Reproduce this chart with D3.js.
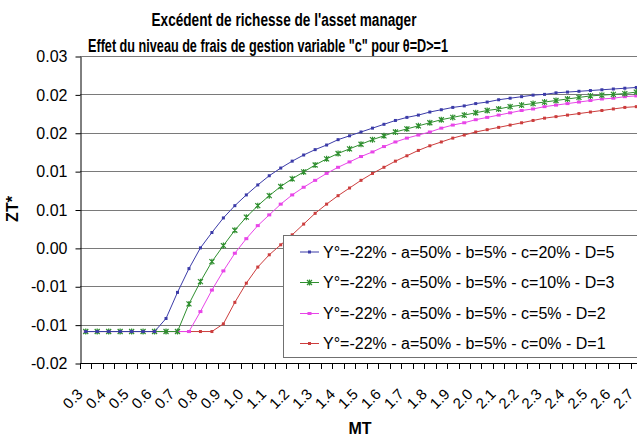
<!DOCTYPE html>
<html><head><meta charset="utf-8">
<script src="https://cdn.jsdelivr.net/npm/d3@7"></script>
<style>
html,body{margin:0;padding:0;background:#fff;overflow:hidden}
text{font-family:"Liberation Sans",Arial,sans-serif}
</style></head>
<body><svg id="c" width="637" height="437"></svg>
<script>
// ---- data ----
const categories = [0.30,0.35,0.40,0.45,0.50,0.55,0.60,0.65,0.70,0.75,0.80,0.85,0.90,0.95,1.00,1.05,1.10,1.15,1.20,1.25,1.30,1.35,1.40,1.45,1.50,1.55,1.60,1.65,1.70,1.75,1.80,1.85,1.90,1.95,2.00,2.05,2.10,2.15,2.20,2.25,2.30,2.35,2.40,2.45,2.50,2.55,2.60,2.65,2.70,2.75];
const xTickLabels = ["0.3","0.4","0.5","0.6","0.7","0.8","0.9","1.0","1.1","1.2","1.3","1.4","1.5","1.6","1.7","1.8","1.9","2.0","2.1","2.2","2.3","2.4","2.5","2.6","2.7"];
const yTicks = [-0.015,-0.01,-0.005,0,0.005,0.01,0.015,0.02,0.025];
const yTickLabels = ["-0.02","-0.01","-0.01","0.00","0.01","0.01","0.02","0.02","0.03"];
const seriesNames = [
  "Y°=-22% - a=50% - b=5% - c=20% - D=5",
  "Y°=-22% - a=50% - b=5% - c=10% - D=3",
  "Y°=-22% - a=50% - b=5% - c=5% - D=2",
  "Y°=-22% - a=50% - b=5% - c=0% - D=1"
];
const serieC20 = [-0.0109,-0.0109,-0.0109,-0.0109,-0.0109,-0.0109,-0.0109,-0.0092,-0.0058,-0.0027,0.0000,0.0020,0.0039,0.0055,0.0069,0.0082,0.0094,0.0104,0.0113,0.0121,0.0128,0.0134,0.0141,0.0146,0.0151,0.0156,0.0161,0.0166,0.0170,0.0173,0.0177,0.0180,0.0183,0.0185,0.0188,0.0190,0.0193,0.0195,0.0197,0.0199,0.0200,0.0202,0.0203,0.0204,0.0205,0.0206,0.0207,0.0208,0.0209,0.0210];
const serieC10 = [-0.0109,-0.0109,-0.0109,-0.0109,-0.0109,-0.0109,-0.0109,-0.0109,-0.0109,-0.0073,-0.0044,-0.0018,0.0003,0.0023,0.0040,0.0055,0.0068,0.0080,0.0090,0.0099,0.0108,0.0116,0.0123,0.0129,0.0135,0.0141,0.0146,0.0151,0.0155,0.0159,0.0163,0.0167,0.0170,0.0173,0.0176,0.0179,0.0181,0.0184,0.0186,0.0188,0.0190,0.0192,0.0194,0.0196,0.0198,0.0199,0.0200,0.0201,0.0203,0.0204];
const serieC5 = [-0.0109,-0.0109,-0.0109,-0.0109,-0.0109,-0.0109,-0.0109,-0.0109,-0.0109,-0.0109,-0.0083,-0.0055,-0.0030,-0.0007,0.0012,0.0029,0.0043,0.0057,0.0069,0.0079,0.0088,0.0097,0.0105,0.0112,0.0119,0.0125,0.0132,0.0138,0.0143,0.0147,0.0151,0.0156,0.0160,0.0163,0.0167,0.0170,0.0173,0.0176,0.0179,0.0181,0.0184,0.0186,0.0188,0.0190,0.0192,0.0194,0.0195,0.0197,0.0198,0.0199];
const serieC0 = [-0.0109,-0.0109,-0.0109,-0.0109,-0.0109,-0.0109,-0.0109,-0.0109,-0.0109,-0.0109,-0.0109,-0.0109,-0.0099,-0.0071,-0.0046,-0.0025,-0.0009,0.0004,0.0017,0.0031,0.0045,0.0057,0.0068,0.0078,0.0088,0.0097,0.0105,0.0113,0.0120,0.0127,0.0133,0.0138,0.0143,0.0147,0.0151,0.0154,0.0157,0.0160,0.0163,0.0166,0.0169,0.0171,0.0173,0.0175,0.0177,0.0179,0.0181,0.0183,0.0184,0.0186];
const seriesColors = ["#3b3ba8","#2f8f2f","#e845e8","#cc3d3d"];
const seriesMarkers = ["dot","star","square","dot"];

// ---- chart ----
const svg = d3.select("#c");
const L = 80, T = 56, B = 363, step = 11.47;
const x = d3.scaleBand().domain(categories).range([L, L + step*categories.length]).padding(0);
const y = d3.scaleLinear().domain([-0.015, 0.025]).range([B, T]);
const cx = d => x(d) + x.bandwidth()/2;

// gridlines
svg.append("g").selectAll("line").data(yTicks.slice(1)).join("line")
  .attr("x1", L).attr("x2", 637).attr("y1", d => Math.round(y(d))+0.5).attr("y2", d => Math.round(y(d))+0.5)
  .attr("stroke", "#7a7a7a").attr("stroke-width", 1);

// y axis
const yAxis = d3.axisLeft(y).tickValues(yTicks).tickSize(5).tickSizeOuter(0)
  .tickFormat((d,i) => yTickLabels[i]);
const gy = svg.append("g").attr("transform", `translate(${L+0.5},0.5)`).call(yAxis);
gy.select(".domain").attr("stroke", "#000");
gy.selectAll(".tick line").attr("stroke", "#000");
gy.selectAll(".tick text").attr("x", -13).attr("font-size", 16).attr("fill", "#000")
  .attr("font-family", '"Liberation Sans",Arial,sans-serif');

// x axis with ticks at category boundaries
const gx = svg.append("g");
gx.append("line").attr("x1", L).attr("x2", 637).attr("y1", B+0.5).attr("y2", B+0.5).attr("stroke", "#000");
gx.selectAll("line.t").data(categories).join("line").attr("class","t")
  .attr("x1", d => Math.round(x(d))+0.5).attr("x2", d => Math.round(x(d))+0.5)
  .attr("y1", B).attr("y2", B+6).attr("stroke", "#000");
const labelCats = categories.filter((d,i) => i % 2 === 0).slice(0, xTickLabels.length);
gx.selectAll("text").data(labelCats).join("text")
  .attr("transform", d => `translate(${cx(d)-2},${395}) rotate(-45)`)
  .attr("text-anchor", "end").attr("font-size", 15).attr("fill", "#000")
  .text((d,i) => xTickLabels[i]);

// series
const allSeries = [serieC20, serieC10, serieC5, serieC0];
const line = d3.line().x((d,i) => cx(categories[i])).y(d => y(d));
function marker(g, type, color, px, py) {
  if (type === "dot") {
    g.append("rect").attr("x", px-1.5).attr("y", py-1.5).attr("width", 3).attr("height", 3).attr("fill", color);
  } else if (type === "square") {
    g.append("rect").attr("x", px-2).attr("y", py-1.5).attr("width", 4).attr("height", 3).attr("fill", color);
  } else if (type === "star") {
    g.append("path").attr("d", `M${px-2.5},${py-2.5}L${px+2.5},${py+2.5}M${px-2.5},${py+2.5}L${px+2.5},${py-2.5}M${px},${py-3}L${px},${py+3}`)
      .attr("stroke", color).attr("stroke-width", 1.2).attr("fill", "none");
  }
}
const order = [3,2,1,0];
order.forEach(si => {
  const g = svg.append("g");
  g.append("path").datum(allSeries[si]).attr("d", line).attr("fill", "none")
    .attr("stroke", seriesColors[si]).attr("stroke-width", 1);
  allSeries[si].forEach((v,i) => marker(g, seriesMarkers[si], seriesColors[si], cx(categories[i]), y(v)));
});

// legend
const lg = svg.append("g");
lg.append("rect").attr("x", 283.5).attr("y", 235.5).attr("width", 360).attr("height", 122)
  .attr("fill", "#fff").attr("stroke", "#707070");
const rowY = [252, 282.5, 313.5, 343.5];
seriesNames.forEach((n, si) => {
  lg.append("line").attr("x1", 300).attr("x2", 319).attr("y1", rowY[si]).attr("y2", rowY[si])
    .attr("stroke", seriesColors[si]).attr("stroke-width", 1);
  marker(lg, seriesMarkers[si], seriesColors[si], 309.5, rowY[si]);
  lg.append("text").attr("x", 323).attr("y", rowY[si] + 5.8).attr("font-size", 16).attr("fill", "#000").text(n);
});

// titles (bold, horizontally condensed as in the reference)
svg.append("text").attr("x", 284).attr("y", 26).attr("text-anchor", "middle")
  .attr("font-size", 17.5).attr("font-weight", "bold")
  .attr("textLength", 265).attr("lengthAdjust", "spacingAndGlyphs")
  .text("Excédent de richesse de l'asset manager");
svg.append("text").attr("x", 268).attr("y", 52).attr("text-anchor", "middle")
  .attr("font-size", 17.5).attr("font-weight", "bold")
  .attr("textLength", 360).attr("lengthAdjust", "spacingAndGlyphs")
  .text("Effet du niveau de frais de gestion variable \"c\" pour θ=D>=1");
svg.append("text").attr("transform", "translate(18,209) rotate(-90)").attr("text-anchor", "middle")
  .attr("font-size", 16).attr("font-weight", "bold").text("ZT*");
svg.append("text").attr("x", 360).attr("y", 434).attr("text-anchor", "middle")
  .attr("font-size", 16).attr("font-weight", "bold").text("MT");
</script></body></html>
